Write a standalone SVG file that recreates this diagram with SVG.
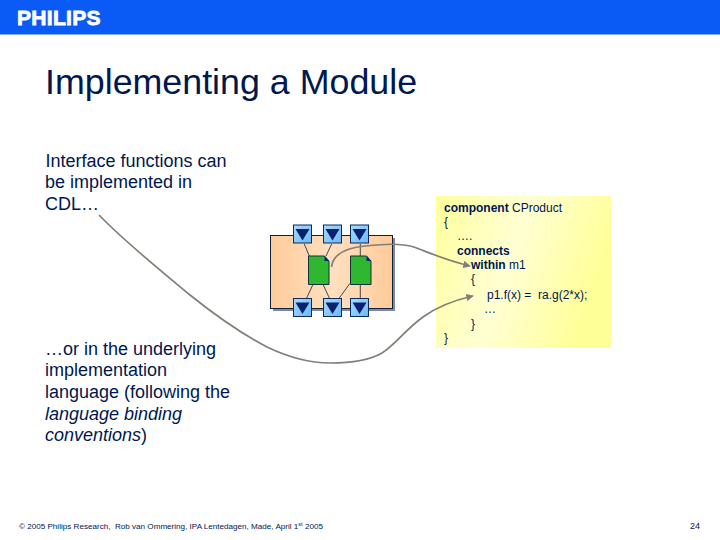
<svg xmlns="http://www.w3.org/2000/svg" width="720" height="540" viewBox="0 0 720 540">
<style>
text{font-family:"Liberation Sans",Arial,sans-serif;fill:#00174f;white-space:pre}
.b{font-size:18px}
.c{font-size:12px}
.port{fill:url(#pg);stroke:#0a2a5a;stroke-width:1}
.tri{fill:#0a2170}
.w{fill:none;stroke:#10203a;stroke-width:.8}
.g{fill:#2fb82f;stroke:#10303a;stroke-width:1}
.n{fill:#0a2170}
.cu{fill:none;stroke:#808078;stroke-width:1.700}
</style>
<defs>
<linearGradient id="og" x1="0" x2="1" y1="0" y2="0"><stop offset="0" stop-color="#ffcb9a"/><stop offset=".5" stop-color="#ffe0c0"/><stop offset="1" stop-color="#ffcb9a"/></linearGradient>
<linearGradient id="yg" x1="0" x2="1" y1="0" y2="0.300"><stop offset="0" stop-color="#ffff9c"/><stop offset=".5" stop-color="#ffffd4"/><stop offset="1" stop-color="#ffff98"/></linearGradient>
<linearGradient id="pg" x1="0" x2="1" y1="0" y2="1"><stop offset="0" stop-color="#a8dcff"/><stop offset="1" stop-color="#6cb8f8"/></linearGradient>
<marker id="ah" viewBox="0 0 10 10" refX="9" refY="5" markerWidth="7.500" markerHeight="7.500" orient="auto" markerUnits="userSpaceOnUse"><path d="M0 0L10 5L0 10Z" fill="#808078"/></marker>
<g id="p"><rect class="port" x="-9" y="-9" width="18" height="18"/><path class="tri" d="M-7-5H7L0 6.500Z"/></g>
<g id="d"><path class="g" d="M0 0H16L20.500 5V28.500H0Z"/><path class="n" d="M16 0L20.500 5H16Z"/></g>
</defs>
<rect width="720" height="34.500" fill="#0a5bf5"/>
<text x="17" y="25" style="font-size:21px;font-weight:700;fill:#fff;stroke:#fff;stroke-width:.8;letter-spacing:.3px">PHILIPS</text>
<text x="45" y="94" style="font-size:35.800px">Implementing a Module</text>
<text class="b" x="45.500" y="166.500">Interface functions can</text>
<text class="b" x="45" y="188">be implemented in</text>
<text class="b" x="45" y="209.500">CDL…</text>
<text class="b" x="45" y="355">…or in the underlying</text>
<text class="b" x="45" y="376">implementation</text>
<text class="b" x="45" y="398">language (following the</text>
<text class="b" x="45" y="419.500" font-style="italic">language binding</text>
<text class="b" x="45" y="441"><tspan font-style="italic">conventions</tspan>)</text>
<g id="code">
<rect x="436" y="196" width="175" height="152" fill="url(#yg)"/>
<text class="c" x="444" y="212"><tspan font-weight="700">component</tspan> CProduct</text>
<text class="c" x="444" y="226">{</text>
<text class="c" x="457" y="240">….</text>
<text class="c" x="457" y="255" font-weight="700">connects</text>
<text class="c" x="471" y="269"><tspan font-weight="700">within</tspan> m1</text>
<text class="c" x="471" y="283">{</text>
<text class="c" x="487" y="299">p1.f(x) =  ra.g(2*x);</text>
<text class="c" x="484" y="313">…</text>
<text class="c" x="471" y="328">}</text>
<text class="c" x="444" y="342">}</text>
</g>
<g id="module">
<rect x="273" y="238" width="122" height="73" fill="#8088a8"/>
<rect x="270.500" y="235.500" width="122" height="73" fill="url(#og)" stroke="#10203a" stroke-width="1"/>
</g>
<g id="wires">
<path class="w" d="M304.300 244L309.300 256M331.700 244L326 256M360.300 244V256M312.700 285L306.700 298M323.300 285L329.300 298M350 283.300L339.300 298M360.300 284.500V298"/>
</g>
<g id="doc1"><use href="#d" x="308.500" y="256"/></g>
<g id="doc2"><use href="#d" x="350.500" y="256"/></g>
<g id="port-t1"><use href="#p" x="302.500" y="234"/></g>
<g id="port-t2"><use href="#p" x="332.500" y="234"/></g>
<g id="port-t3"><use href="#p" x="359.500" y="234"/></g>
<g id="port-b1"><use href="#p" x="302.500" y="307.500"/></g>
<g id="port-b2"><use href="#p" x="332.500" y="307.500"/></g>
<g id="port-b3"><use href="#p" x="359.500" y="307.500"/></g>
<g id="connectors">
<path class="cu" marker-end="url(#ah)" d="M331.500 267C333 254 345 248 365 246C385 244 400 243 414 247C430 253 445 260 470 266"/>
<path class="cu" marker-end="url(#ah)" d="M99 215C125 242 160 270 190 295C215 315 240 333 267 347C290 358 310 363 330 363C350 363 370 360 382 353C395 345 405 330 423 317C438 306 455 300 473 296"/>
</g>
<text x="19" y="528.500" style="font-size:8.100px">© 2005 Philips Research,  Rob van Ommering, IPA Lentedagen, Made, April 1<tspan font-size="5.500" dy="-3">st</tspan><tspan dy="3"> 2005</tspan></text>
<text x="690" y="528.500" style="font-size:9px">24</text>
</svg>
